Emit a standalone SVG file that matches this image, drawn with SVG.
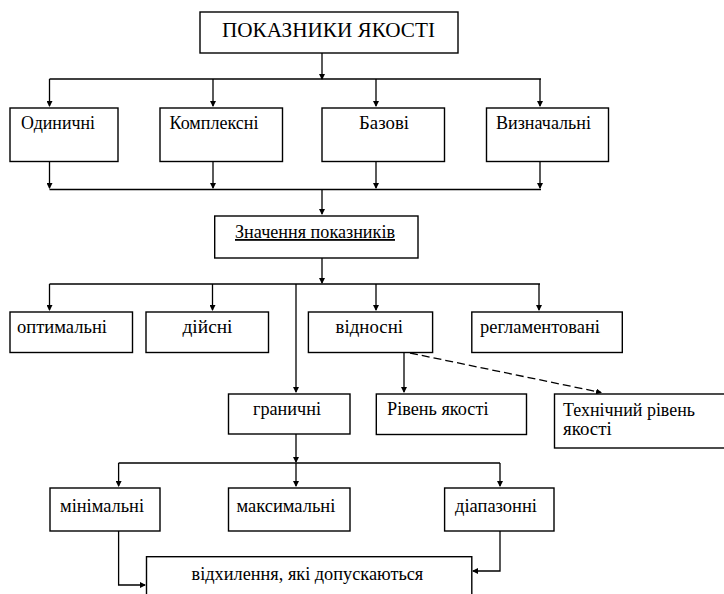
<svg xmlns="http://www.w3.org/2000/svg" width="724" height="594" viewBox="0 0 724 594">
<style>
.box{fill:#fff;stroke:#000;stroke-width:1.4}
.c{fill:none;stroke:#000;stroke-width:1.3}
.a{marker-end:url(#ah)}
.d{stroke-dasharray:8 4}
</style>
<defs>
<marker id="ah" viewBox="0 0 6 6" refX="5" refY="3" markerWidth="6" markerHeight="6" markerUnits="userSpaceOnUse" orient="auto">
<path d="M0,0 L6,3 L0,6 z" fill="#000"/>
</marker>
</defs>
<rect width="724" height="594" fill="#fff"/>

<g id="connectors">
<path class="c a" d="M322,53 V79"/>
<path class="c" d="M49.5,79 H541"/>
<path class="c a" d="M49.5,79 V106"/>
<path class="c a" d="M213,79 V106"/>
<path class="c a" d="M376,79 V106"/>
<path class="c a" d="M540,79 V106"/>
<path class="c a" d="M49.5,161.5 V188"/>
<path class="c a" d="M213,161.5 V188"/>
<path class="c a" d="M376,161.5 V188"/>
<path class="c a" d="M540,161.5 V188"/>
<path class="c" d="M49.5,189.5 H541"/>
<path class="c a" d="M322,189.5 V214"/>
<path class="c a" d="M322,258 V283"/>
<path class="c" d="M49.5,284 H540"/>
<path class="c a" d="M49.5,284 V310"/>
<path class="c a" d="M212.5,284 V310"/>
<path class="c a" d="M376,284 V310"/>
<path class="c a" d="M539,284 V310"/>
<path class="c a" d="M296,284 V392"/>
<path class="c a" d="M404,352.5 V392"/>
<path class="c d a" d="M410,353 L601,392.5"/>
<path class="c a" d="M296,434 V462"/>
<path class="c" d="M118.6,463 H500"/>
<path class="c a" d="M118.6,463 V486"/>
<path class="c a" d="M296,463 V486"/>
<path class="c a" d="M500,463 V486"/>
<path class="c a" d="M118.6,531 V585 H145"/>
<path class="c a" d="M500,531 V571 H473"/>
</g>

<g id="nodes" font-family="Liberation Serif" font-size="18" fill="#000">
<g id="n-title">
<rect class="box" x="200" y="12" width="258" height="41"/>
<text x="222" y="37" font-size="20" textLength="213" lengthAdjust="spacingAndGlyphs">ПОКАЗНИКИ ЯКОСТІ</text>
</g>
<g id="n-odynychni">
<rect class="box" x="10" y="108" width="108" height="53.5"/>
<text x="21" y="129" textLength="74" lengthAdjust="spacingAndGlyphs">Одиничні</text>
</g>
<g id="n-kompleksni">
<rect class="box" x="160" y="108" width="122.5" height="53.5"/>
<text x="169.5" y="129" textLength="89" lengthAdjust="spacingAndGlyphs">Комплексні</text>
</g>
<g id="n-bazovi">
<rect class="box" x="322" y="108" width="122.5" height="53.5"/>
<text x="359" y="129" textLength="50" lengthAdjust="spacingAndGlyphs">Базові</text>
</g>
<g id="n-vyznachalni">
<rect class="box" x="486.5" y="108" width="122" height="53.5"/>
<text x="496" y="129" textLength="95" lengthAdjust="spacingAndGlyphs">Визначальні</text>
</g>
<g id="n-znachennia">
<rect class="box" x="214.7" y="216" width="203.3" height="42"/>
<text x="235" y="238" textLength="160" lengthAdjust="spacingAndGlyphs" text-decoration="underline">Значення показників</text>
</g>
<g id="n-optymalni">
<rect class="box" x="10" y="312" width="122.5" height="40.5"/>
<text x="17" y="333" textLength="90" lengthAdjust="spacingAndGlyphs">оптимальні</text>
</g>
<g id="n-diisni">
<rect class="box" x="146" y="312" width="122.5" height="40.5"/>
<text x="182.5" y="333" textLength="50" lengthAdjust="spacingAndGlyphs">дійсні</text>
</g>
<g id="n-vidnosni">
<rect class="box" x="308.4" y="312" width="124.2" height="40.5"/>
<text x="335.6" y="333" textLength="67.4" lengthAdjust="spacingAndGlyphs">відносні</text>
</g>
<g id="n-reglamentovani">
<rect class="box" x="471.8" y="312" width="150.5" height="40.5"/>
<text x="480" y="333" textLength="120" lengthAdjust="spacingAndGlyphs">регламентовані</text>
</g>
<g id="n-hranychni">
<rect class="box" x="228.5" y="394" width="121.5" height="40"/>
<text x="253" y="415" textLength="68" lengthAdjust="spacingAndGlyphs">граничні</text>
</g>
<g id="n-riven">
<rect class="box" x="376.3" y="394" width="150.2" height="40.5"/>
<text x="387" y="415" textLength="101.5" lengthAdjust="spacingAndGlyphs">Рівень якості</text>
</g>
<g id="n-tekhnichnyi">
<rect class="box" x="554.5" y="394" width="180" height="54"/>
<text x="563" y="416" textLength="132" lengthAdjust="spacingAndGlyphs">Технічний рівень</text>
<text x="563" y="435" textLength="48.7" lengthAdjust="spacingAndGlyphs">якості</text>
</g>
<g id="n-minimalni">
<rect class="box" x="50" y="488" width="110" height="43"/>
<text x="60" y="512" textLength="84" lengthAdjust="spacingAndGlyphs">мінімальні</text>
</g>
<g id="n-maksymalni">
<rect class="box" x="228.5" y="488" width="121.5" height="43"/>
<text x="236.4" y="512" textLength="99" lengthAdjust="spacingAndGlyphs">максимальні</text>
</g>
<g id="n-diapazonni">
<rect class="box" x="444.6" y="488" width="109.4" height="43"/>
<text x="455" y="512" textLength="82" lengthAdjust="spacingAndGlyphs">діапазонні</text>
</g>
<g id="n-vidkhylennia">
<rect class="box" x="146.5" y="556.7" width="325.3" height="50"/>
<text x="191.6" y="580" textLength="231.7" lengthAdjust="spacingAndGlyphs">відхилення, які допускаються</text>
</g>
</g>
</svg>
